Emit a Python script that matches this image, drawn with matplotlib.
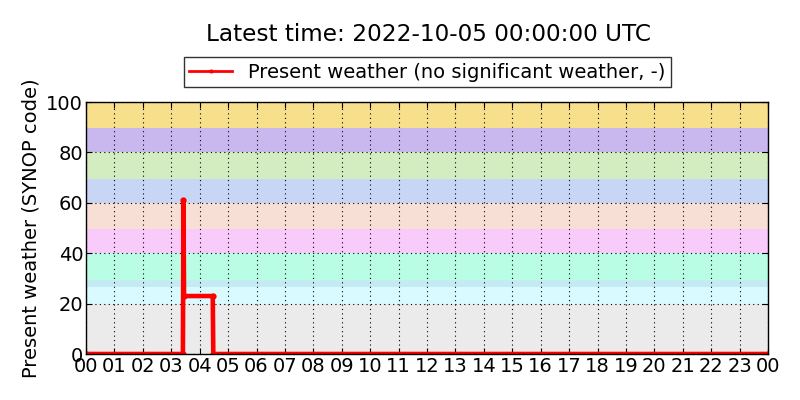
import matplotlib
matplotlib.use("Agg")
import matplotlib.pyplot as plt

# Data (hours since 2022-10-04 00:00 UTC)
times_h = [0.0, 3.41, 3.43, 3.45, 4.46, 4.48, 24.0]
values = [0, 0, 61, 23, 23, 0, 0]

hour_labels = ["%02d" % (h % 24) for h in range(25)]

band_edges = [0, 20, 26.7, 29.4, 40, 49.5, 60, 69.5, 80, 89.7, 100]
band_colors = ["#ebebeb", "#d9fbff", "#c4ebf3", "#b9fde5", "#f9cbfb",
               "#f8dfd5", "#c8d6f5", "#d3ecc0", "#c9b8ed", "#f7df8c"]

title = "Latest time: 2022-10-05 00:00:00 UTC"
legend_label = "Present weather (no significant weather, -)"
ylabel = "Present weather (SYNOP code)"

fig = plt.figure(figsize=(8, 4), dpi=100)
ax = fig.add_axes([0.1075, 0.115, 0.8525, 0.63])

for i in range(len(band_colors)):
    ax.axhspan(band_edges[i], band_edges[i + 1], color=band_colors[i], lw=0, zorder=0)

line, = ax.plot(times_h, values, color="red", lw=3.3, marker=".", markersize=7,
                zorder=3, label=legend_label)

ax.set_xlim(0, 24)
ax.set_ylim(0, 100)
ax.set_xticks(range(25))
ax.set_xticklabels(hour_labels)
ax.set_yticks(range(0, 101, 20))
ax.tick_params(direction="in", top=True, right=True, labelsize=14, length=4, pad=2)
ax.grid(True, color="black", linestyle=(0, (1, 3)), linewidth=0.8, zorder=1)
ax.set_axisbelow(False)
for s in ax.spines.values():
    s.set_linewidth(1.0)
    s.set_zorder(4)

ax.set_ylabel(ylabel, fontsize=14, labelpad=4)

fig.text(0.535, 0.913, title, ha="center", va="center", fontsize=16.7)

leg_handle = plt.Line2D([], [], color="red", lw=2, marker=".", markersize=4)
leg = fig.legend([leg_handle], [legend_label], loc="center",
                 bbox_to_anchor=(0.534, 0.82), fontsize=14, frameon=True,
                 fancybox=False, borderpad=0.3, handlelength=2.2,
                 handletextpad=0.8, borderaxespad=0)
leg.get_frame().set_edgecolor("black")
leg.get_frame().set_linewidth(1.0)

fig.savefig("out.png", dpi=100)
